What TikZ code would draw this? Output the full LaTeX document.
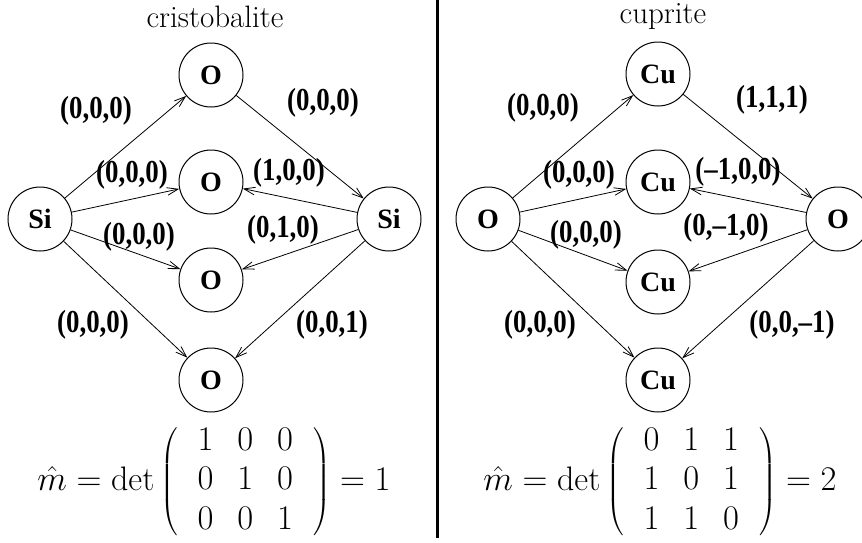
\documentclass[tikz,border=0pt]{standalone}
\usepackage{fontspec}
\newfontfamily\tms{Liberation Serif}
\newfontfamily\tmsc[FakeStretch=0.84]{Liberation Serif}
\usetikzlibrary{arrows.meta}
\tikzset{
  atom/.style={draw, circle, line width=0.5pt, minimum size=32pt, inner sep=0pt,
    font=\tms\bfseries\fontsize{14}{16}\selectfont},
  bond/.style={line width=0.4pt, -{Straight Barb[length=5.5pt,width=3.8pt]}},
  lab/.style={font=\tmsc\bfseries\fontsize{16}{18}\selectfont, inner sep=0pt},
  ttl/.style={font=\fontsize{15.5}{18}\selectfont, inner sep=0pt},
  frm/.style={font=\fontsize{17}{19.6}\selectfont, inner sep=0pt},
}
\newcommand{\detmat}[1]{\left(\begin{array}{@{\hspace{10pt}}c@{\hspace{12pt}}c@{\hspace{12pt}}c@{\hspace{10pt}}}#1\end{array}\right)}
\begin{document}
\begin{tikzpicture}[x=0.5pt,y=-0.5pt]
\useasboundingbox (0,0) rectangle (862,542);
% divider
\draw[line width=1.5pt] (437,0) -- (437,538);
% titles
\node[ttl] (t1) at (215,17) {cristobalite};
\node[ttl] (t2) at (663,17) {cuprite};
% left panel
\node[atom] (sil) at (40,219) {Si};
\node[atom] (sir) at (389,219) {Si};
\node[atom] (o1) at (211,75) {O};
\node[atom] (o2) at (211,182) {O};
\node[atom] (o3) at (211,280) {O};
\node[atom] (o4) at (211,380) {O};
\draw[bond] (sil) -- (o1);
\draw[bond] (sil) -- (o2);
\draw[bond] (sil) -- (o3);
\draw[bond] (sil) -- (o4);
\draw[bond] (o1) -- (sir);
\draw[bond] (sir) -- (o2);
\draw[bond] (sir) -- (o3);
\draw[bond] (sir) -- (o4);
\node[lab] (l1) at (96,111) {(0,0,0)};
\node[lab] (l2) at (323,103) {(0,0,0)};
\node[lab] (l3) at (132,175) {(0,0,0)};
\node[lab] (l4) at (289,173) {(1,0,0)};
\node[lab] (l5) at (139,237) {(0,0,0)};
\node[lab] (l6) at (283,230) {(0,1,0)};
\node[lab] (l7) at (93,325) {(0,0,0)};
\node[lab] (l8) at (332,325) {(0,0,1)};
% right panel
\node[atom] (ol) at (488,219) {O};
\node[atom] (or) at (838,219) {O};
\node[atom] (c1) at (658,74) {Cu};
\node[atom] (c2) at (658,182) {Cu};
\node[atom] (c3) at (658,282) {Cu};
\node[atom] (c4) at (658,380) {Cu};
\draw[bond] (ol) -- (c1);
\draw[bond] (ol) -- (c2);
\draw[bond] (ol) -- (c3);
\draw[bond] (ol) -- (c4);
\draw[bond] (c1) -- (or);
\draw[bond] (or) -- (c2);
\draw[bond] (or) -- (c3);
\draw[bond] (or) -- (c4);
\node[lab] (r1) at (543,108) {(0,0,0)};
\node[lab] (r2) at (772,100) {(1,1,1)};
\node[lab] (r3) at (579,175) {(0,0,0)};
\node[lab] (r4) at (738,172) {(–1,0,0)};
\node[lab] (r5) at (586,235) {(0,0,0)};
\node[lab] (r6) at (726,228) {(0,–1,0)};
\node[lab] (r7) at (540,325) {(0,0,0)};
\node[lab] (r8) at (792,325) {(0,0,–1)};
% formulas
\node[frm] (f1) at (214,482) {$\hat{m}=\det\detmat{1&0&0\\0&1&0\\0&0&1}=1$};
\node[frm] (f2) at (660,482) {$\hat{m}=\det\detmat{0&1&1\\1&0&1\\1&1&0}=2$};
\end{tikzpicture}
\end{document}
